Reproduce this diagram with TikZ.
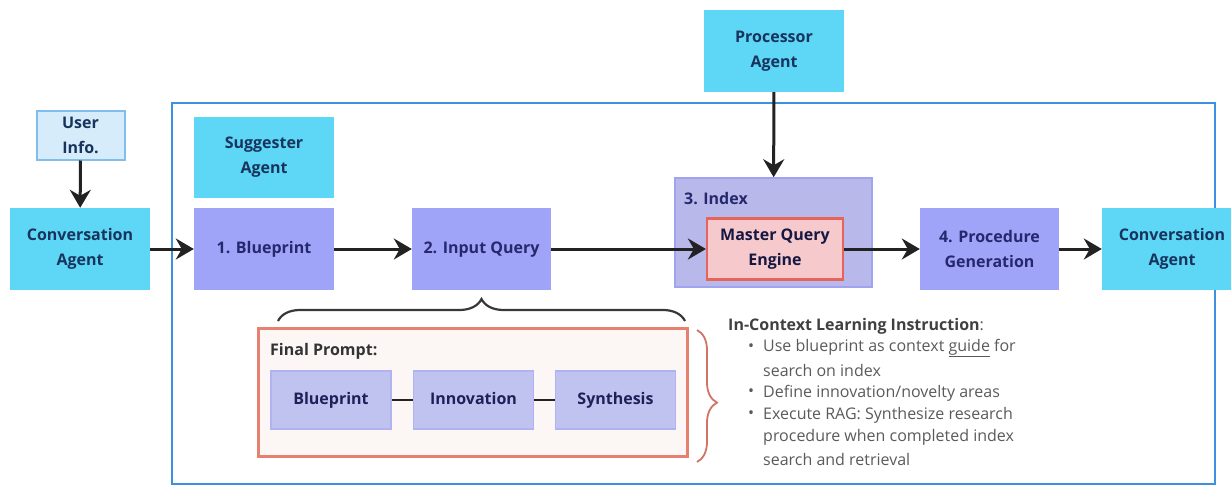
\documentclass[tikz,border=0pt]{standalone}
\usepackage{fontspec}
\setmainfont{Open Sans}
\usetikzlibrary{arrows.meta,decorations.pathreplacing,positioning}
\definecolor{cyanbox}{RGB}{94,214,246}
\definecolor{peri}{RGB}{160,164,248}
\definecolor{navy}{RGB}{22,52,92}
\definecolor{dkblue}{RGB}{38,40,110}
\definecolor{frameblue}{RGB}{60,145,225}
\definecolor{userfill}{RGB}{214,236,250}
\definecolor{userdraw}{RGB}{130,190,235}
\definecolor{idxfill}{RGB}{184,184,234}
\definecolor{idxdraw}{RGB}{160,164,240}
\definecolor{mqfill}{RGB}{246,202,204}
\definecolor{mqdraw}{RGB}{230,100,90}
\definecolor{fpfill}{RGB}{252,246,244}
\definecolor{fpdraw}{RGB}{232,128,112}
\definecolor{smfill}{RGB}{192,194,240}
\definecolor{smdraw}{RGB}{176,178,244}
\definecolor{txtgray}{RGB}{90,90,90}
\definecolor{arrowc}{RGB}{34,34,34}
\tikzset{
  boxfont/.style={font=\bfseries\fontsize{16}{25}\selectfont},
  agent/.style={fill=cyanbox, draw=none, text=navy, boxfont, align=center, inner sep=0pt},
  stepbox/.style={fill=peri, draw=none, text=dkblue, boxfont, align=center, inner sep=0pt},
  oneline/.style={text height=11.5pt, text depth=3.5pt},
  small/.style={fill=smfill, draw=smdraw, line width=1.5pt, text=dkblue!80!black, boxfont, oneline, inner sep=0pt, minimum width=120pt, minimum height=58pt},
  arr/.style={draw=arrowc, line width=3pt, -{Stealth[length=18pt,width=21pt,inset=6pt]}},
}
\begin{document}
\begin{tikzpicture}[x=1pt,y=-1pt]
\useasboundingbox (0,0) rectangle (1231,487);
% outer frame
\draw[frameblue, line width=2.8pt] (172,103) rectangle (1215,484);
% user info
\node[fill=userfill, draw=userdraw, line width=2pt, text=navy, boxfont, align=center, minimum width=88pt, minimum height=49pt, inner sep=0pt] (user) at (80.5,135) {User\\Info.};
\node[agent, minimum width=140pt, minimum height=82pt] (conv1) at (80,249) {Conversation\\Agent};
\node[agent, minimum width=140pt, minimum height=81pt] (sugg) at (264,157.5) {Suggester\\Agent};
\node[stepbox, oneline, minimum width=140pt, minimum height=82pt] (bp) at (264,249) {1. Blueprint};
\node[stepbox, oneline, minimum width=139pt, minimum height=82pt] (iq) at (481.5,249) {2. Input Query};
\node[agent, minimum width=140pt, minimum height=82pt] (proc) at (774,51) {Processor\\Agent};
% index
\node[fill=idxfill, draw=idxdraw, line width=1.5pt, minimum width=197pt, minimum height=109pt, inner sep=0pt] (idx) at (773.5,232.5) {};
\node[anchor=west, text=dkblue, boxfont, inner sep=0pt] (idxlbl) at (684,199) {3. Index};
\node[fill=mqfill, draw=mqdraw, line width=2.2pt, text=dkblue!60!black, boxfont, align=center, minimum width=136pt, minimum height=61pt, inner sep=0pt] (mq) at (775,249) {Master Query\\Engine};
\node[stepbox, minimum width=139pt, minimum height=82pt] (pg) at (989.5,249) {4. Procedure\\Generation};
\node[agent, minimum width=140pt, minimum height=82pt] (conv2) at (1172,249) {Conversation\\Agent};
% arrows
\draw[arr] (user) -- (conv1);
\draw[arr] (conv1) -- (bp);
\draw[arr] (bp) -- (iq);
\draw[arr] (iq) -- (mq);
\draw[arr] (mq) -- (pg);
\draw[arr] (pg) -- (conv2);
\draw[arr] (proc) -- (idx);
% final prompt
\node[fill=fpfill, draw=fpdraw, line width=2.8pt, minimum width=429pt, minimum height=128pt, inner sep=0pt] (fp) at (473,392.5) {};
\node[anchor=west, text=black!80, boxfont, inner sep=0pt] (fplbl) at (270,351) {Final Prompt:};
\node[small] (sb) at (331,400) {Blueprint};
\node[small] (si) at (473.5,400) {Innovation};
\node[small] (ss) at (615.5,400) {Synthesis};
\draw[arrowc, line width=2.2pt] (sb) -- (si);
\draw[arrowc, line width=2.2pt] (si) -- (ss);
% braces
\coordinate (br1) at (278,321);
\coordinate (br2) at (685,321);
\draw[arrowc!90, line width=2.2pt, decorate, decoration={brace, amplitude=22pt, aspect=0.5}] (br1) -- (br2);
\coordinate (br3) at (697,330);
\coordinate (br4) at (697,462);
\draw[fpdraw!90!black, line width=1.8pt, decorate, decoration={brace, amplitude=20pt, aspect=0.55}] (br3) -- (br4);
% instruction text
\node[anchor=west, inner sep=0pt, font=\fontsize{16}{20}\selectfont, text=black!75] (ictitle) at (728,326) {\textbf{In-Context Learning Instruction}\textcolor{txtgray}{:}};
\begin{scope}[every node/.style={anchor=west, inner sep=0pt, font=\fontsize{16}{20}\selectfont, text=txtgray}]
\node (b1) at (748,348) {•};
\node (t1) at (763,348) {Use blueprint as context \underline{guide} for};
\node (t1b) at (763,370) {search on index};
\node (b2) at (748,393) {•};
\node (t2) at (763,393) {Define innovation/novelty areas};
\node (b3) at (748,415) {•};
\node (t3) at (763,415) {Execute RAG: Synthesize research};
\node (t3b) at (763,437) {procedure when completed index};
\node (t3c) at (763,459) {search and retrieval};
\end{scope}
\end{tikzpicture}
\end{document}
